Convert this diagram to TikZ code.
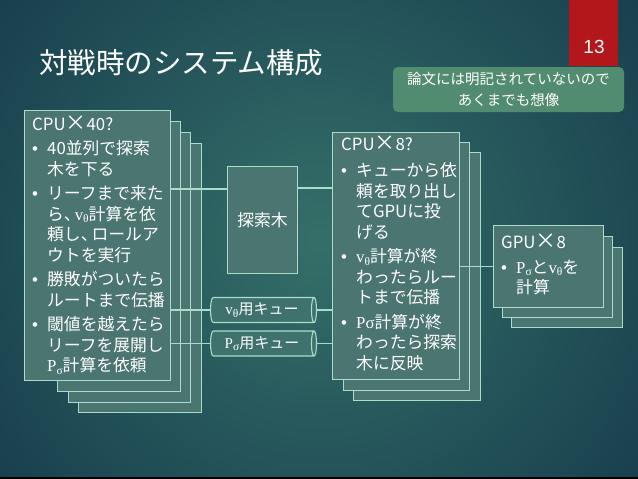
\documentclass[tikz,border=0pt]{standalone}
\usepackage{fontspec}
\setmainfont{Noto Sans CJK JP}
\newfontfamily\serifl{Liberation Serif}
\newfontfamily\lsans{Liberation Sans}
\usetikzlibrary{shapes.geometric}
\definecolor{bgin}{HTML}{356F69}
\definecolor{bgout}{HTML}{163C4C}
\definecolor{boxfill}{HTML}{4A7571}
\definecolor{boxline}{HTML}{A9DCCB}
\definecolor{notefill}{HTML}{528C70}
\definecolor{pagered}{HTML}{B3171C}
\definecolor{baseline}{HTML}{8DB5B3}
\definecolor{queuefill}{HTML}{3F726C}
\newcommand{\myvt}{{\serifl v\raisebox{-2.5pt}{\fontsize{11.5}{11.5}\selectfont θ}}}
\newcommand{\myps}{{\serifl P\raisebox{-2.5pt}{\fontsize{11.5}{11.5}\selectfont σ}}}
\newcommand{\mybul}{\makebox[15pt][l]{\lsans •}}
\newcommand{\myind}{\hspace*{15pt}}
\newcommand{\mycomma}{、\kern-6pt}
\newcommand{\mytimes}{\makebox[21pt]{\fontsize{21}{21}\selectfont ×}}
\tikzset{
  panel/.style={draw=boxline, fill=boxfill, line width=1.1pt, inner sep=0pt, anchor=north west},
  body/.style={text=white, align=left, inner sep=0pt, anchor=west, font=\fontsize{16.8}{20.5}\selectfont},
  link/.style={draw=boxline, line width=1.1pt},
  queue/.style={cylinder, draw=boxline, fill=queuefill, line width=1.1pt,
    aspect=0.35, minimum height=106pt, minimum width=25pt, inner sep=0pt, text=white,
    font=\fontsize{15}{16}\selectfont},
}
\begin{document}
\begin{tikzpicture}[x=1pt, y=-1pt]
\useasboundingbox (0,0) rectangle (638,479);
% background
\begin{scope}
  \clip (0,0) rectangle (638,479);
  \fill[bgout] (0,0) rectangle (638,479);
  \shade[inner color=bgin, outer color=bgout] (320,240) circle (430pt);
\end{scope}
\draw[baseline, line width=2pt] (0,478) -- (638,478);
% page number
\node[fill=pagered, minimum width=49pt, minimum height=66pt, inner sep=0pt, anchor=north west] (pg) at (569,0) {};
\node[text=white, font=\lsans\fontsize{19}{19}\selectfont, inner sep=0pt] (pgn) at (594,47) {13};
% title
\node[text=white, font=\fontsize{28.5}{29}\selectfont, anchor=west, inner sep=0pt] (title) at (39,63) {対戦時のシステム構成};
% note
\node[fill=notefill, rounded corners=5pt, minimum width=231pt, minimum height=45pt, inner sep=0pt,
  text=white, align=center, font=\fontsize{14.5}{21}\selectfont] (note) at (508.5,89.5)
  {論文には明記されていないので\\あくまでも想像};
% left stack
\node[panel, minimum width=123pt, minimum height=269pt] (L4) at (78,143) {};
\node[panel, minimum width=122pt, minimum height=270pt] (L3) at (68,132) {};
\node[panel, minimum width=123pt, minimum height=270pt] (L2) at (57,121) {};
\node[panel, minimum width=146pt, minimum height=270pt] (L1) at (24,110) {};
% middle stack
\node[panel, minimum width=127pt, minimum height=248pt] (M3) at (353,152) {};
\node[panel, minimum width=126pt, minimum height=248pt] (M2) at (343,142) {};
\node[panel, minimum width=127pt, minimum height=247pt] (M1) at (332,132) {};
% GPU stack
\node[panel, minimum width=111pt, minimum height=80pt] (G3) at (511,247) {};
\node[panel, minimum width=110pt, minimum height=81pt] (G2) at (502,236) {};
\node[panel, minimum width=110pt, minimum height=82pt] (G1) at (493,225) {};
% search tree and queues
\node[panel, minimum width=70pt, minimum height=107pt] (T) at (227,166) {};
\node[text=white, font=\fontsize{16.8}{18}\selectfont, inner sep=0pt] (Tl) at (T.center) {探索木};
\node[queue] (Q1) at (262,310) {\myvt 用キュー};
\node[queue] (Q2) at (262,343.5) {\myps 用キュー};
% connectors
\coordinate (ta) at ([yshift=-23pt]T.north west);
\coordinate (tb) at ([yshift=-22pt]T.north east);
\draw[link] (ta) -- (ta -| L1.east);
\draw[link] (tb) -- (tb -| M1.west);
\draw[link] (Q1.west) -- (Q1.west -| L1.east);
\draw[link] (Q2.west) -- (Q2.west -| L1.east);
\draw[link] (Q1.east) -- (Q1.east -| M1.west);
\draw[link] (Q2.east) -- (Q2.east -| M1.west);
\draw[link] (G1.west) -- (G1.west -| M1.east);
% texts
\node[body] (Lt) at (32,245) {CPU\mytimes 40?\\[4pt]
\mybul 40並列で探索\\
\myind 木を下る\\[4pt]
\mybul リーフまで来た\\
\myind ら\mycomma\myvt 計算を依\\
\myind 頼し\mycomma ロールア\\
\myind ウトを実行\\[4pt]
\mybul 勝敗がついたら\\
\myind ルートまで伝播\\[4pt]
\mybul 閾値を越えたら\\
\myind リーフを展開し\\
\myind \myps 計算を依頼};
\node[body] (Mt) at (341,253) {CPU\mytimes 8?\\[6pt]
\mybul キューから依\\
\myind 頼を取り出し\\
\myind てGPUに投\\
\myind げる\\[4pt]
\mybul \myvt 計算が終\\
\myind わったらルー\\
\myind トまで伝播\\[4pt]
\mybul {\serifl Pσ}計算が終\\
\myind わったら探索\\
\myind 木に反映};
\node[body] (Gt) at (501,264.5) {GPU\mytimes 8\\[4pt]
\mybul \myps と\myvt を\\
\myind 計算};
\end{tikzpicture}
\end{document}
